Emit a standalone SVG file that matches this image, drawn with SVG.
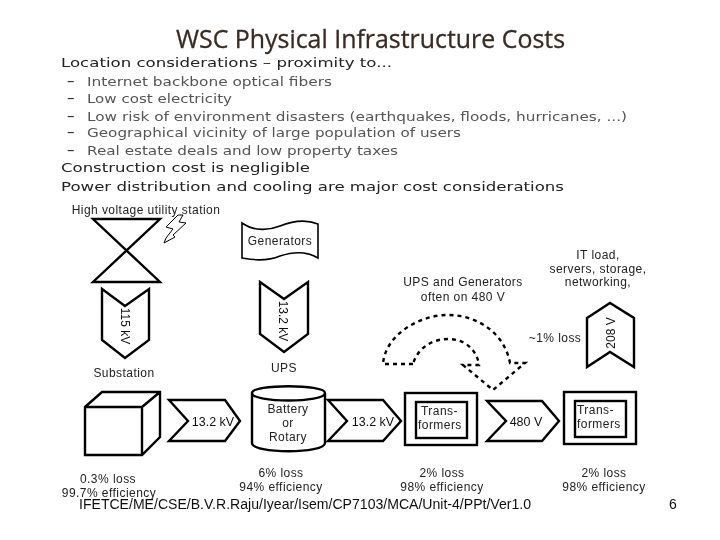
<svg xmlns="http://www.w3.org/2000/svg" width="720" height="540" viewBox="0 0 720 540">
<defs><filter id="soft" x="0" y="0" width="100%" height="100%"><feGaussianBlur stdDeviation="0.35"/></filter></defs>
<style>
text{font-family:"DejaVu Sans","Liberation Sans",sans-serif}
.shape{fill:#fff;stroke:#000;stroke-width:2.4;stroke-linejoin:miter}
.thin{fill:#fff;stroke:#000;stroke-width:1.6}
.dash{fill:none;stroke:#000;stroke-width:2.4;stroke-dasharray:4 4}
.title{font-family:"Open Sans","Liberation Sans",sans-serif;font-size:25px;fill:#3a2a20;stroke:#3a2a20;stroke-width:.3}
.head{font-size:13px;fill:#222}
.sub{font-size:12px;fill:#555}
.bul{font-size:15px;fill:#333}
.lab{font-family:"Liberation Sans",sans-serif;font-size:12px;letter-spacing:.45px;fill:#222;text-anchor:middle}
.val{font-family:"Liberation Sans",sans-serif;font-size:12.5px;fill:#111;text-anchor:middle}
.foot{font-family:"Liberation Sans",sans-serif;font-size:14px;fill:#111}
.st{text-anchor:start}
</style>
<g filter="url(#soft)">
<g id="heading">
<text class="title" x="176" y="48" textLength="389" lengthAdjust="spacingAndGlyphs">WSC Physical Infrastructure Costs</text>
<text class="head" x="61" y="67" textLength="331" lengthAdjust="spacingAndGlyphs">Location considerations – proximity to...</text>
<text class="bul" x="67" y="86">–</text><text class="sub" x="87" y="86" textLength="245" lengthAdjust="spacingAndGlyphs">Internet backbone optical fibers</text>
<text class="bul" x="67" y="103">–</text><text class="sub" x="87" y="103" textLength="145" lengthAdjust="spacingAndGlyphs">Low cost electricity</text>
<text class="bul" x="67" y="121">–</text><text class="sub" x="87" y="121" textLength="540" lengthAdjust="spacingAndGlyphs">Low risk of environment disasters (earthquakes, floods, hurricanes, ...)</text>
<text class="bul" x="67" y="137">–</text><text class="sub" x="87" y="137" textLength="374" lengthAdjust="spacingAndGlyphs">Geographical vicinity of large population of users</text>
<text class="bul" x="67" y="155">–</text><text class="sub" x="87" y="155" textLength="311" lengthAdjust="spacingAndGlyphs">Real estate deals and low property taxes</text>
<text class="head" x="61" y="172" textLength="249" lengthAdjust="spacingAndGlyphs">Construction cost is negligible</text>
<text class="head" x="61" y="191" textLength="503" lengthAdjust="spacingAndGlyphs">Power distribution and cooling are major cost considerations</text>
</g>
<g id="connectors">
<g id="chevron-115kv"><polygon class="shape" points="102,289 125,306 149,289 149,340 125,358 102,340"/><text class="val" style="font-size:12px" transform="translate(121,326) rotate(90)">115 kV</text></g>
<g id="chevron-13kv-down"><polygon class="shape" points="260,282 284,299 308,282 308,334 284,352 260,334"/><text class="val" style="font-size:12px" transform="translate(279,321) rotate(90)">13.2 kV</text></g>
<g id="chevron-208v"><polygon class="shape" points="587,318 610,303 634,318 634,367 610,352 587,367"/><text class="val" style="font-size:12px" transform="translate(615,333) rotate(-90)">208 V</text></g>
<g id="arrow-13kv-a"><polygon class="shape" points="169,400 225,400 240,421 225,441 169,441 188,421"/><text class="val" x="213" y="426">13.2 kV</text></g>
<g id="arrow-13kv-b"><polygon class="shape" points="328,400 383,400 401,421 383,441 328,441 347,421"/><text class="val" x="373" y="426">13.2 kV</text></g>
<g id="arrow-480v"><polygon class="shape" points="487,401 542,401 559,421 542,441 487,441 506,421"/><text class="val" x="526" y="426">480 V</text></g>
<path id="bypass-arrow" class="dash" d="M413,364 H383 C385,335 420,314 450,315 C480,316 505,335 510,363 H525 L493,390 L463,365 H479 C477,350 465,339 448,339 C430,339 417,350 413,364 Z"/>
</g>
<g id="utility-station">
<path d="M93,219 H160 L93,282 H160 Z" fill="none" stroke="#000" stroke-width="2.4"/>
<text class="lab" x="146" y="214">High voltage utility station</text>
<path d="M178,215 L166,227 L173,229 L166,238 L164,243 L175,237 L173,235 L186,223 L179,222 L183,215 Z" fill="#fff" stroke="#000" stroke-width="1"/>
<text class="lab" x="124" y="377">Substation</text>
</g>
<g id="generators">
<path class="thin" d="M242,223 C255,232 270,230 280,226 C295,220 308,220 318,224 V258 C305,250 292,252 280,256 C268,261 252,260 242,258 Z"/>
<text class="lab" x="280" y="245">Generators</text>
</g>
<text id="ups-label" class="lab" x="284" y="372">UPS</text>
<g id="ups-note"><text class="lab" x="463" y="286">UPS and Generators</text><text class="lab" x="463" y="301">often on 480 V</text></g>
<g id="it-load"><text class="lab" x="598" y="259">IT load,</text><text class="lab" x="598" y="272.500">servers, storage,</text><text class="lab" x="598" y="286">networking,</text></g>
<text id="loss-1" class="lab" x="555" y="342">~1% loss</text>
<g id="cube">
<path class="shape" d="M85,407 L102,392 H160 V437 L142,455 H85 Z M85,407 H142 V455 M142,407 L160,392"/>
<text class="lab" x="108" y="483">0.3% loss</text><text class="lab" x="109" y="497">99.7% efficiency</text>
</g>
<g id="ups-cylinder">
<path class="shape" d="M252,393 C252,384 325,384 325,393 V443 C325,454 252,454 252,443 Z M252,393 C252,403 325,403 325,393"/>
<text class="lab" x="288" y="413">Battery</text><text class="lab" x="288" y="427">or</text><text class="lab" x="288" y="441">Rotary</text>
<text class="lab" x="281" y="477">6% loss</text><text class="lab" x="281" y="491">94% efficiency</text>
</g>
<g id="transformers-1">
<rect class="shape" x="405" y="393" width="72" height="52"/><rect class="shape" x="416" y="402" width="51" height="36"/>
<text class="lab st" x="421" y="415">Trans-</text><text class="lab st" x="418" y="429">formers</text>
<text class="lab" x="442" y="477">2% loss</text><text class="lab" x="442" y="491">98% efficiency</text>
</g>
<g id="transformers-2">
<rect class="shape" x="564" y="392" width="72" height="52"/><rect class="shape" x="575" y="401" width="51" height="36"/>
<text class="lab st" x="577" y="414">Trans-</text><text class="lab st" x="577" y="428">formers</text>
<text class="lab" x="604" y="477">2% loss</text><text class="lab" x="604" y="491">98% efficiency</text>
</g>
<g id="footer">
<text class="foot" x="79" y="509" textLength="452" lengthAdjust="spacingAndGlyphs">IFETCE/ME/CSE/B.V.R.Raju/Iyear/Isem/CP7103/MCA/Unit-4/PPt/Ver1.0</text>
<text class="foot" x="669" y="509">6</text>
</g>
</g>
</svg>
